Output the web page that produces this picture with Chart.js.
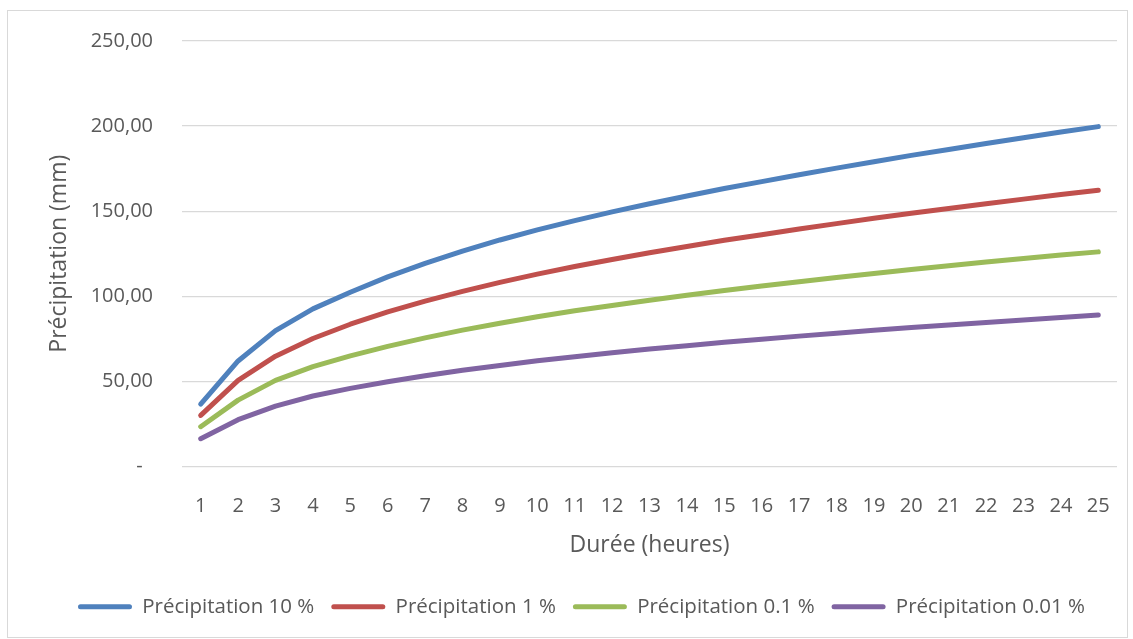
<!DOCTYPE html>
<html lang="fr">
<head>
<meta charset="utf-8">
<title>Précipitation - durée</title>
<script src="https://cdn.jsdelivr.net/npm/chart.js@4.4.1/dist/chart.umd.min.js"></script>
<style>
  html, body { margin: 0; padding: 0; background: #ffffff; }
  #wrap { position: relative; width: 1133px; height: 639px; }
</style>
</head>
<body>
<div id="wrap"><canvas id="grafico_pluie" width="1133" height="639"></canvas></div>
<script>
// durées en heures
const durees = [1, 2, 3, 4, 5, 6, 7, 8, 9, 10, 11, 12, 13, 14, 15, 16, 17, 18, 19, 20, 21, 22, 23, 24, 25];

// hauteurs de pluie (mm) par fréquence
const precip10 = [36.7, 62.0, 79.8, 92.6, 102.4, 111.4, 119.4, 126.6, 133.1, 139.0, 144.5, 149.6, 154.4, 158.9, 163.3, 167.4, 171.4, 175.3, 179.1, 182.8, 186.3, 189.8, 193.2, 196.5, 199.7];
const precip1 = [30.0, 50.6, 64.8, 75.2, 83.6, 90.8, 97.2, 102.9, 108.2, 113.0, 117.5, 121.6, 125.6, 129.3, 132.9, 136.2, 139.5, 142.7, 145.8, 148.8, 151.6, 154.4, 157.1, 159.8, 162.3];
const precip01 = [23.4, 39.0, 50.6, 58.7, 65.0, 70.6, 75.6, 80.1, 84.2, 88.0, 91.5, 94.6, 97.7, 100.6, 103.4, 106.0, 108.5, 111.0, 113.4, 115.7, 117.9, 120.1, 122.2, 124.2, 126.1];
const precip001 = [16.3, 27.5, 35.5, 41.4, 45.9, 49.8, 53.3, 56.5, 59.4, 62.1, 64.5, 66.8, 69.0, 71.0, 73.0, 74.8, 76.6, 78.3, 80.0, 81.6, 83.1, 84.6, 86.1, 87.6, 89.0];

const series = ['Précipitation 10 %', 'Précipitation 1 %', 'Précipitation 0.1 %', 'Précipitation 0.01 %'];
const couleurs = ['#4F81BD', '#C0504D', '#9BBB59', '#8064A2'];

const gris = '#595959';
const police = "'Open Sans', 'Noto Sans', sans-serif";

function serie(i, valeurs) {
  return {
    label: series[i],
    data: valeurs,
    borderColor: couleurs[i],
    backgroundColor: couleurs[i],
    borderWidth: 5,
    borderCapStyle: 'round',
    borderJoinStyle: 'round',
    pointRadius: 0,
    pointHoverRadius: 0,
    tension: 0,
    fill: false
  };
}

// cadre gris clair autour du graphique
const cadre = {
  id: 'cadre',
  beforeDraw(chart) {
    const c = chart.ctx;
    c.save();
    c.fillStyle = '#ffffff';
    c.fillRect(0, 0, chart.width, chart.height);
    c.strokeStyle = '#d9d9d9';
    c.lineWidth = 1;
    c.strokeRect(7.5, 10.5, 1120, 627);
    c.restore();
  }
};

const ctx = document.getElementById('grafico_pluie');
new Chart(ctx, {
  type: 'line',
  data: {
    labels: durees,
    datasets: [
      serie(0, precip10),
      serie(1, precip1),
      serie(2, precip01),
      serie(3, precip001)
    ]
  },
  options: {
    responsive: false,
    animation: false,
    layout: { padding: { top: 41, left: 46, right: 16, bottom: 12 } },
    plugins: {
      tooltip: { enabled: false },
      legend: {
        position: 'bottom',
        labels: {
          color: gris,
          font: { family: police, size: 20.5 },
          boxWidth: 54,
          boxHeight: 5,
          padding: 17,
          generateLabels(chart) {
            const items = Chart.defaults.plugins.legend.labels.generateLabels(chart);
            items.forEach(it => { it.lineWidth = 0; it.borderRadius = 2.5; });
            return items;
          }
        }
      }
    },
    scales: {
      x: {
        offset: true,
        grid: { display: false, drawTicks: false },
        border: { display: false },
        ticks: {
          color: gris,
          font: { family: police, size: 20 },
          padding: 28,
          maxRotation: 0,
          autoSkip: false
        },
        title: {
          display: true,
          text: 'Durée (heures)',
          color: gris,
          font: { family: police, size: 23 },
          padding: { top: 0, bottom: 20 }
        },
        afterFit(scale) {
          scale.height = 113;
          scale.paddingLeft = 0;
          scale.paddingRight = 0;
        }
      },
      y: {
        min: 0,
        max: 250,
        grid: { color: '#d9d9d9', lineWidth: 1.2, drawTicks: false },
        border: { display: false },
        ticks: {
          stepSize: 50,
          color: gris,
          font: { family: police, size: 20 },
          padding: 29,
          callback: v => v === 0 ? '-\u00a0\u00a0' : v.toFixed(2).replace('.', ',')
        },
        title: {
          display: true,
          text: 'Précipitation (mm)',
          color: gris,
          font: { family: police, size: 23 },
          padding: 0
        },
        afterFit(scale) { scale.width = 136; }
      }
    }
  },
  plugins: [cadre]
});
</script>
</body>
</html>
